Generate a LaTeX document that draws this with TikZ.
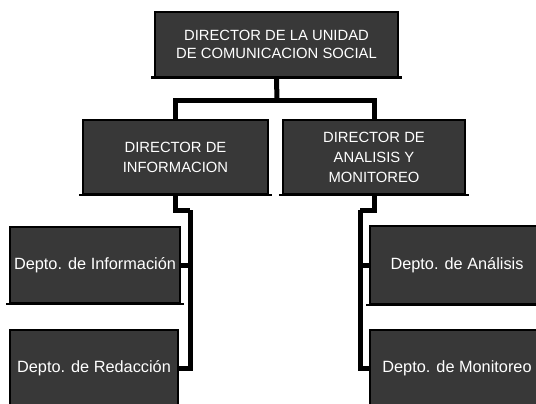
\documentclass[tikz,border=0pt]{standalone}
\usepackage{fontspec}
\setmainfont{Liberation Sans}
\definecolor{boxfill}{gray}{0.22}
\begin{document}
\begin{tikzpicture}[x=1pt,y=-1pt,
  box/.style={draw=black,line width=1.5pt,fill=boxfill,text=white,align=center,inner sep=0pt},
  capsfont/.style={font=\fontsize{14.8}{20}\selectfont},
  depfont/.style={font=\fontsize{16.3}{19}\selectfont},
  conn/.style={line width=5pt,draw=black,line join=miter},
  baseline/.style={line width=2.5pt,draw=black}]
\useasboundingbox (0,0) rectangle (536,404);

% boxes
\node[box,minimum width=243pt,minimum height=65pt,font=\fontsize{14.8}{17.5}\selectfont] (top) at (276.5,44.5) {DIRECTOR DE LA UNIDAD\\DE COMUNICACION SOCIAL};
\node[box,capsfont,minimum width=185pt,minimum height=74pt] (dinf) at (175.5,157) {DIRECTOR DE\\INFORMACION};
\node[box,capsfont,minimum width=182pt,minimum height=74pt] (dana) at (374,157) {DIRECTOR DE\\ANALISIS Y\\MONITOREO};
\node[box,depfont,minimum width=170pt,minimum height=76pt] (dep1) at (95,265) {Depto. de Información};
\node[box,depfont,minimum width=168pt,minimum height=76pt] (dep2) at (94,368) {Depto. de Redacción};
\node[box,depfont,minimum width=174pt,minimum height=78pt] (dep3) at (457,265) {Depto. de Análisis};
\node[box,depfont,minimum width=174pt,minimum height=76pt] (dep4) at (457,368) {Depto. de Monitoreo};

% bottom edges (shadow lines)
\foreach \n in {top,dinf,dana,dep1,dep3}{
  \draw[baseline] ([xshift=-3pt]\n.south west) -- ([xshift=3pt]\n.south east);
}

% connectors
\coordinate (tb) at (277,101);
\coordinate (lj) at (190,210);
\coordinate (rj) at (360,210);
\draw[conn] (top.south) -- (tb);
\draw[conn] (dinf.north) |- (tb) -| (dana.north);
\draw[conn] (dinf.south) |- (lj);
\draw[conn] (lj) |- (dep2.east);
\draw[conn] (lj) |- (dep1.east);
\draw[conn] (dana.south) |- (rj);
\draw[conn] (rj) |- (dep4.west);
\draw[conn] (rj) |- (dep3.west);
\end{tikzpicture}
\end{document}
